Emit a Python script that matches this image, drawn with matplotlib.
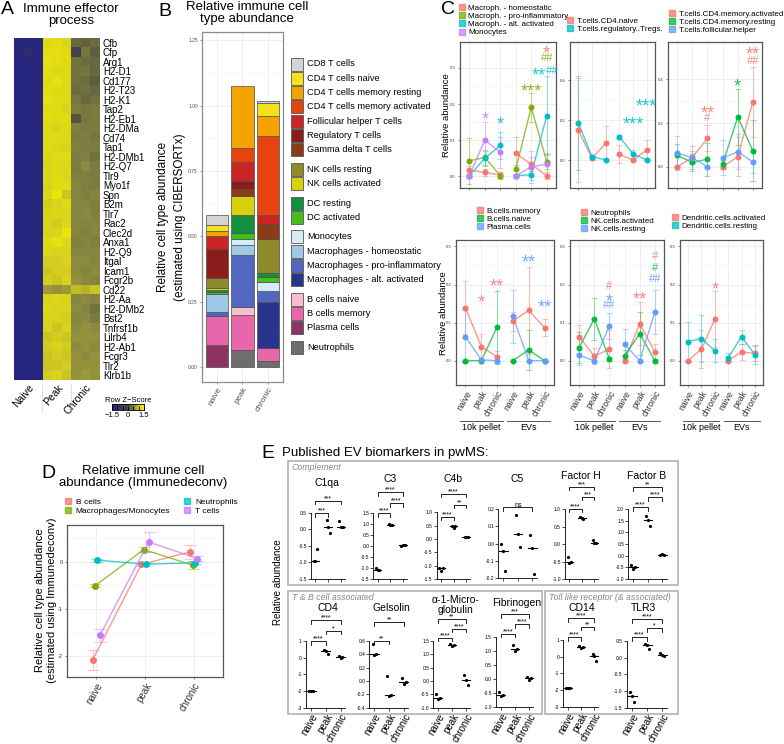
import matplotlib
matplotlib.use("Agg")
import matplotlib.pyplot as plt
from matplotlib.colors import LinearSegmentedColormap
from matplotlib.lines import Line2D
from matplotlib.patches import Rectangle
from matplotlib.transforms import blended_transform_factory
import numpy as np

plt.rcParams['font.family'] = ['Liberation Sans', 'DejaVu Sans']
plt.rcParams['axes.unicode_minus'] = False

# ---------------- A: heatmap (row z-scores, 3 naive / 3 peak / 3 chronic)
genes = ['Cfb', 'Cfp', 'Arg1', 'H2-D1', 'Cd177', 'H2-T23', 'H2-K1', 'Tap2', 'H2-Eb1',
         'H2-DMa', 'Cd74', 'Tap1', 'H2-DMb1', 'H2-Q7', 'Tlr9', 'Myo1f', 'Spn', 'B2m',
         'Tlr7', 'Rac2', 'Clec2d', 'Anxa1', 'H2-Q9', 'Itgal', 'Icam1', 'Fcgr2b', 'Cd22',
         'H2-Aa', 'H2-DMb2', 'Bst2', 'Tnfrsf1b', 'Lilrb4', 'H2-Ab1', 'Fcgr3', 'Tlr2', 'Klrb1b']
heat_groups = ['Naive', 'Peak', 'Chronic']
zscores = [
    [-1.5, -1.4, -1.45, 1.2, 1.25, 1.1, 0.3, 0.25, 0.35],
    [-1.45, -1.2, -1.45, 1.25, 1.25, 1.2, -0.3, 0.45, 0.2],
    [-1.5, -1.5, -1.5, 1.3, 1.25, 1.2, 0.4, 0.35, 0.3],
    [-1.5, -1.5, -1.5, 1.25, 1.15, 1.2, 0.4, 0.45, 0.3],
    [-1.5, -1.5, -1.5, 1.2, 1.3, 1.15, 0.4, 0.35, 0.2],
    [-1.5, -1.5, -1.5, 1.25, 1.2, 1.15, 0.35, 0.4, 0.3],
    [-1.5, -1.5, -1.5, 1.3, 1.2, 1.2, 0.45, 0.3, 0.4],
    [-1.5, -1.5, -1.5, 1.2, 1.2, 1.1, 0.5, 0.45, 0.5],
    [-1.5, -1.5, -1.5, 1.25, 1.2, 1.2, 0.1, 0.45, 0.5],
    [-1.5, -1.5, -1.5, 1.2, 1.1, 1.2, 0.55, 0.5, 0.5],
    [-1.5, -1.5, -1.5, 1.2, 1.2, 1.15, 0.5, 0.55, 0.45],
    [-1.5, -1.5, -1.5, 1.2, 1.15, 1.1, 0.55, 0.5, 0.5],
    [-1.5, -1.5, -1.5, 1.15, 1.2, 1.2, 0.5, 0.55, 0.4],
    [-1.5, -1.5, -1.5, 1.1, 1.2, 1.15, 0.5, 0.65, 0.5],
    [-1.5, -1.5, -1.5, 1.15, 1.2, 1.15, 0.55, 0.55, 0.5],
    [-1.5, -1.5, -1.5, 1.1, 1.2, 1.2, 0.6, 0.55, 0.5],
    [-1.5, -1.5, -1.5, 1.15, 1.35, 1.0, 0.6, 0.55, 0.6],
    [-1.5, -1.5, -1.5, 1.05, 1.1, 1.2, 0.6, 0.6, 0.55],
    [-1.5, -1.5, -1.5, 1.1, 1.15, 1.1, 0.6, 0.65, 0.55],
    [-1.5, -1.5, -1.5, 1.1, 1.05, 1.15, 0.6, 0.6, 0.6],
    [-1.5, -1.5, -1.5, 1.1, 1.1, 1.35, 0.6, 0.55, 0.6],
    [-1.5, -1.5, -1.5, 1.2, 1.3, 1.15, 0.55, 0.6, 0.55],
    [-1.5, -1.5, -1.5, 1.15, 1.1, 1.1, 0.6, 0.6, 0.6],
    [-1.5, -1.5, -1.5, 1.05, 1.05, 1.1, 0.65, 0.65, 0.6],
    [-1.5, -1.5, -1.5, 1.0, 1.05, 1.05, 0.65, 0.6, 0.65],
    [-1.5, -1.5, -1.5, 1.05, 1.0, 1.1, 0.7, 0.65, 0.6],
    [-1.5, -1.5, -1.5, 0.75, 0.7, 0.75, 0.95, 0.9, 1.0],
    [-1.5, -1.5, -1.5, 1.1, 1.15, 1.1, 0.6, 0.65, 0.6],
    [-1.5, -1.5, -1.5, 1.15, 1.1, 1.1, 0.65, 0.6, 0.4],
    [-1.5, -1.5, -1.5, 1.1, 1.1, 1.05, 0.6, 0.65, 0.5],
    [-1.5, -1.5, -1.5, 1.1, 1.0, 1.1, 0.65, 0.7, 0.65],
    [-1.5, -1.5, -1.5, 1.0, 1.05, 1.0, 0.7, 0.7, 0.7],
    [-1.5, -1.5, -1.5, 1.05, 1.1, 1.05, 0.65, 0.7, 0.65],
    [-1.5, -1.5, -1.5, 1.0, 1.05, 1.0, 0.7, 0.65, 0.7],
    [-1.5, -1.5, -1.5, 1.0, 1.0, 1.05, 0.7, 0.7, 0.7],
    [-1.5, -1.5, -1.5, 1.05, 1.1, 1.0, 0.7, 0.75, 0.7],
]

# ---------------- B: CIBERSORTx stacked bars (legend order = top of stack first)
stages = ['naive', 'peak', 'chronic']
cell_types = ['CD8 T cells', 'CD4 T cells naive', 'CD4 T cells memory resting',
              'CD4 T cells memory activated', 'Follicular helper T cells', 'Regulatory T cells',
              'Gamma delta T cells', 'NK cells resting', 'NK cells activated', 'DC resting',
              'DC activated', 'Monocytes', 'Macrophages - homeostatic',
              'Macrophages - pro-inflammatory', 'Macrophages - alt. activated', 'B cells naive',
              'B cells memory', 'Plasma cells', 'Neutrophils']
cell_colors = ['#d4d4d4', '#f6e21c', '#f5a300', '#e8420e', '#cc2424', '#8b1c1c', '#8c3c14',
               '#8f8a2c', '#d8d00c', '#12903c', '#44bf1f', '#d8ecf8', '#9dc8e6', '#5268c0',
               '#29348c', '#f9bdd0', '#e866aa', '#8e3462', '#6e6e6e']
abund_naive = [0.040, 0.024, 0.019, 0.0, 0.049, 0.109, 0.0, 0.041, 0.008, 0.006, 0.009, 0.0,
               0.068, 0.015, 0.0, 0.0, 0.109, 0.086, 0.0]
abund_peak = [0.0, 0.0, 0.236, 0.055, 0.073, 0.029, 0.028, 0.0, 0.073, 0.068, 0.022, 0.023,
              0.038, 0.200, 0.0, 0.029, 0.134, 0.0, 0.066]
abund_chronic = [0.009, 0.049, 0.077, 0.304, 0.032, 0.0, 0.060, 0.130, 0.0, 0.014, 0.018, 0.036,
                 0.0, 0.041, 0.176, 0.0, 0.051, 0.0, 0.022]

# ---------------- C: relative abundance, 10k pellet (naive, peak, chronic) then EVs
c_stages = ['naive', 'peak', 'chronic', 'naive', 'peak', 'chronic']
c1_labels = ['Macroph. - homeostatic', 'Macroph. - pro-inflammatory', 'Macroph. - alt. activated', 'Monocytes']
c1_mean = [[0.017, 0.010, 0.003, 0.063, 0.033, 0.001], [0.042, 0.052, 0.001, 0.019, 0.191, 0.040],
           [0.001, 0.049, 0.085, 0.001, 0.004, 0.168], [0.001, 0.100, 0.066, 0.001, 0.026, 0.033]]
c1_err = [[0.012, 0.010, 0.008, 0.046, 0.020, 0.010], [0.065, 0.020, 0.008, 0.012, 0.040, 0.020],
          [0.005, 0.020, 0.038, 0.005, 0.015, 0.110], [0.005, 0.050, 0.043, 0.005, 0.045, 0.030]]
c1_sig = [(2, 0.175, '*', 3), (3, 0.161, '*', 2), (5, 0.253, '***', 1), (6, 0.356, '*', 0),
          (6, 0.33, '##', 1), (5.5, 0.295, '**', 2), (6.35, 0.295, '##', 2)]

c2_labels = ['T.cells.CD4.naive', 'T.cells.regulatory..Tregs.']
c2_mean = [[0.15, 0.008, 0.083, 0.028, 0.0, 0.05], [0.187, 0.017, 0.0, 0.117, 0.03, 0.0]]
c2_err = [[0.26, 0.01, 0.085, 0.045, 0.005, 0.05], [0.235, 0.01, 0.005, 0.01, 0.02, 0.005]]
c2_sig = [(5, 0.207, '***', 1), (6, 0.30, '***', 1)]

c3_labels = ['T.cells.CD4.memory.activated', 'T.cells.CD4.memory.resting', 'T.cells.follicular.helper']
c3_mean = [[0.0, 0.043, 0.13, 0.0, 0.046, 0.297], [0.053, 0.02, 0.035, 0.012, 0.228, 0.073],
           [0.064, 0.041, 0.0, 0.041, 0.068, 0.023]]
c3_err = [[0.005, 0.053, 0.06, 0.005, 0.09, 0.16], [0.05, 0.04, 0.075, 0.02, 0.13, 0.14],
          [0.077, 0.03, 0.005, 0.08, 0.08, 0.05]]
c3_sig = [(3, 0.271, '**', 0), (3, 0.228, '#', 0), (5, 0.396, '*', 1), (6, 0.54, '**', 0), (6, 0.49, '##', 0)]

c4_labels = ['B.cells.memory', 'B.cells.naive', 'Plasma.cells']
c4_mean = [[0.139, 0.037, 0.010, 0.104, 0.132, 0.087], [0.0, 0.0, 0.088, 0.0, 0.028, 0.0],
           [0.063, 0.002, 0.0, 0.116, 0.0, 0.0]]
c4_err = [[0.069, 0.034, 0.015, 0.025, 0.115, 0.022], [0.0, 0.0, 0.096, 0.0, 0.052, 0.0],
          [0.07, 0.0, 0.0, 0.07, 0.0, 0.0]]
c4_sig = [(2, 0.168, '*', 0), (3, 0.212, '**', 0), (5, 0.274, '**', 2), (6, 0.157, '**', 2)]

c5_labels = ['Neutrophils', 'NK.cells.activated', 'NK.cells.resting']
c5_mean = [[0.063, 0.012, 0.03, 0.0, 0.097, 0.023], [0.034, 0.11, 0.004, 0.013, 0.071, 0.0],
           [0.014, 0.0, 0.091, 0.043, 0.0, 0.128]]
c5_err = [[0.03, 0.02, 0.05, 0.005, 0.057, 0.02], [0.04, 0.055, 0.005, 0.015, 0.057, 0.005],
          [0.025, 0.0, 0.035, 0.04, 0.0, 0.058]]
c5_sig = [(3, 0.199, '#', 0), (3, 0.173, '*', 2), (3, 0.148, '##', 2), (5, 0.177, '**', 0),
          (6, 0.277, '#', 0), (6, 0.247, '#', 1), (6, 0.217, '##', 2)]

c6_labels = ['Dendritic.cells.activated', 'Dendritic.cells.resting']
c6_mean = [[0.0, 0.03, 0.109, 0.0, 0.023, 0.019], [0.05, 0.058, 0.026, 0.008, 0.063, 0.015]]
c6_err = [[0.0, 0.05, 0.074, 0.0, 0.02, 0.02], [0.052, 0.062, 0.03, 0.012, 0.018, 0.025]]
c6_sig = [(3, 0.204, '*', 0)]

# ---------------- D: Immunedeconv
d_labels = ['B cells', 'Macrophages/Monocytes', 'Neutrophils', 'T cells']
d_mean = [[-2.08, -0.056, 0.21], [-0.507, 0.26, -0.07], [0.035, -0.05, -0.02], [-1.56, 0.42, 0.07]]
d_err = [[0.22, 0.03, 0.14], [0.03, 0.06, 0.08], [0.03, 0.03, 0.03], [0.13, 0.22, 0.05]]

# ---------------- E: published EV biomarkers (naive, peak, chronic; 3 points each)
c1qa_pts = [[-0.96, -0.96, -0.6], [0.28, 0.08, -0.1], [0.26, 0.08, 0.08]]
c3_pts = [[-1.0, -1.08, -1.1], [0.98, 0.95, 0.95], [0.0, 0.02, 0.03]]
c4b_pts = [[-1.1, -1.19, -1.1], [0.49, 0.42, 0.49], [0.06, 0.06, 0.06]]
c5_pts = [[0.0, -0.045, -0.16], [0.165, 0.055, -0.02], [0.05, -0.025, -0.175]]
fh_pts = [[-0.37, -0.55, -0.52], [0.78, 0.74, 0.73], [0.13, 0.02, 0.04]]
fb_pts = [[-0.4, -0.55, -0.5], [1.71, 1.55, 1.28], [0.04, 0.06, 0.05]]
cd4_pts = [[-2.0, -2.0, -2.0], [0.48, 0.38, 0.2], [0.08, 0.0, 0.02]]
gsn_pts = [[0.55, 0.39, 0.4], [0.07, -0.22, -0.21], [0.05, -0.04, -0.01]]
a1m_pts = [[-0.47, -0.66, -0.62], [1.4, 1.3, 1.36], [0.21, 0.05, -0.14]]
fgb_pts = [[-0.45, -0.6, -0.57], [1.24, 1.01, 1.1], [0.08, -0.04, 0.04]]
cd14_pts = [[-1.86, -1.9, -1.9], [0.66, 0.54, 0.57], [0.14, 0.03, -0.26]]
tlr3_pts = [[-1.04, -1.15, -1.32], [0.4, 0.38, 0.26], [0.15, 0.07, 0.05]]
c1qa_br = [(0, 1, 0.48, '***'), (0, 2, 0.85, '***')]
c3_br = [(0, 1, 1.47, '****'), (1, 2, 1.92, '****'), (0, 2, 2.42, '****')]
c4b_br = [(0, 1, 0.84, '****'), (1, 2, 1.28, '**'), (0, 2, 1.68, '****')]
c5_br = [(0, 2, 0.21, 'ns')]
fh_br = [(0, 1, 1.02, '****'), (1, 2, 1.36, '***'), (0, 2, 1.65, '***')]
fb_br = [(0, 1, 2.08, '****'), (1, 2, 2.51, '****'), (0, 2, 2.94, '**')]
cd4_br = [(0, 1, 0.98, '****'), (1, 2, 1.6, '*'), (0, 2, 2.24, '****')]
gsn_br = [(0, 1, 0.6, '**'), (0, 2, 0.88, '**')]
a1m_br = [(0, 1, 1.62, '****'), (1, 2, 1.96, '****'), (0, 2, 2.31, '**')]
fgb_br = [(0, 1, 1.63, '****'), (1, 2, 1.96, '****'), (0, 2, 2.32, '***')]
cd14_br = [(0, 1, 1.16, '****'), (1, 2, 1.8, '**'), (0, 2, 2.3, '****')]
tlr3_br = [(0, 1, 0.61, '****'), (1, 2, 0.88, '*'), (0, 2, 1.15, '****')]

# ------------------------------------------------------------------ figure
W, H = 784, 744
fig = plt.figure(figsize=(W / 100, H / 100), dpi=100)
ov = fig.add_axes([0, 0, 1, 1], zorder=10)
ov.set_xlim(0, W)
ov.set_ylim(H, 0)
ov.axis('off')


def pax(x0, y0, x1, y1):
    return fig.add_axes([x0 / W, 1 - y1 / H, (x1 - x0) / W, (y1 - y0) / H])


def txt(x, y, s, **kw):
    ov.text(x, y, s, **kw)


GRID = '#ebebeb'

# ---------------- A
txt(1, 9, 'A', fontsize=14, va='center')
txt(71, 15, 'Immune effector\nprocess', fontsize=9.5, ha='center', va='center', linespacing=1.1)
cmap = LinearSegmentedColormap.from_list(
    'zs', [(0.0, '#26267e'), (0.5, '#4a4a40'), (0.72, '#8c8b40'), (0.86, '#d8d21e'), (1.0, '#f4ee00')])
axa = pax(14, 38, 100, 380)
axa.imshow(np.array(zscores), cmap=cmap, vmin=-1.5, vmax=1.5, aspect='auto', interpolation='nearest')
axa.yaxis.tick_right()
axa.set_yticks(range(len(genes)))
axa.set_yticklabels(genes, fontsize=7.0)
axa.set_xticks([1, 4, 7])
axa.set_xticklabels(heat_groups, rotation=50, ha='right', rotation_mode='anchor', fontsize=7.5)
axa.tick_params(length=0, pad=2)
for s in axa.spines.values():
    s.set_visible(False)
for xx in (42, 71):
    ov.plot([xx, xx], [384, 412], ls=':', color='#b0b0b0', lw=0.7)
cax = pax(112, 404, 144, 410)
cax.imshow(np.linspace(-1.5, 1.5, 100)[None, :], cmap=cmap, aspect='auto', extent=(-1.5, 1.5, 0, 1))
cax.set_yticks([])
cax.set_xticks(np.arange(-1.5, 1.6, 0.5))
cax.set_xticklabels(['\u22121.5', '', '', '0', '', '', '1.5'], fontsize=5.5)
cax.tick_params(axis='x', direction='in', length=3, width=0.6, pad=1.5)
for s in cax.spines.values():
    s.set_linewidth(0.6)
txt(128, 400, 'Row Z\u2212Score', fontsize=5.5, ha='center', va='center')

# ---------------- B
txt(158, 11, 'B', fontsize=14, va='center')
txt(247, 13, 'Relative immune cell\ntype abundance', fontsize=9.5, ha='center', va='center', linespacing=1.0)
axb = pax(202, 32, 283, 382)
stack = np.array([abund_naive, abund_peak, abund_chronic])
bottom = np.zeros(3)
for k in reversed(range(len(cell_types))):
    for j in range(3):
        if stack[j, k] > 0:
            axb.bar(j, stack[j, k], bottom=bottom[j], width=0.88, color=cell_colors[k],
                    edgecolor='#4d4d4d', linewidth=0.5, zorder=3)
    bottom += stack[:, k]
axb.set_xlim(-0.6, 2.6)
axb.set_ylim(-0.057, 1.281)
axb.set_yticks([0, 0.25, 0.5, 0.75, 1.0, 1.25])
axb.set_yticklabels(['0.00', '0.25', '0.50', '0.75', '1.00', '1.25'], fontsize=3.5, color='#4d4d4d')
axb.set_yticks(np.arange(0.125, 1.25, 0.25), minor=True)
axb.set_xticks(range(3))
axb.set_xticklabels(stages, rotation=60, ha='right', rotation_mode='anchor', fontsize=6)
axb.tick_params(length=1.5, width=0.4, pad=1.5, colors='#4d4d4d')
axb.tick_params(which='minor', length=0)
axb.grid(True, which='major', color=GRID, lw=0.6)
axb.grid(True, which='minor', color='#f4f4f4', lw=0.4)
axb.set_axisbelow(True)
for s in axb.spines.values():
    s.set_color('#8c8c8c')
    s.set_linewidth(0.9)
txt(163, 217, 'Relative cell type abundance', fontsize=8.5, rotation=90, ha='center', va='center')
txt(180, 217, '(estimated using CIBERSORTx)', fontsize=8.5, rotation=90, ha='center', va='center')
ly = 64
for k, name in enumerate(cell_types):
    if k in (7, 9, 11, 15, 18):
        ly += 5.2
    ov.add_patch(Rectangle((291, ly - 6.5), 12, 13, facecolor=cell_colors[k], edgecolor='#555555', lw=0.6))
    txt(307, ly, name, fontsize=6.7, va='center')
    ly += 14.3

# ---------------- C
txt(441, 9, 'C', fontsize=14, va='center')


def draw_c(rect, labels, colors, means, errs, ylim, yticks, sig, leg_xy, show_x):
    ax = pax(*rect)
    for k in range(len(labels)):
        m = np.array(means[k])
        e = np.array(errs[k])
        for g in (0, 1):
            xs = np.arange(1, 4) + 3 * g
            sl = slice(3 * g, 3 * g + 3)
            ax.errorbar(xs, m[sl], yerr=e[sl], fmt='none', ecolor=colors[k], alpha=0.4,
                        capsize=2.5, elinewidth=0.8, capthick=0.8, zorder=2)
            ax.plot(xs, m[sl], color=colors[k], alpha=0.75, lw=1.0, zorder=3)
            ax.plot(xs, m[sl], 'o', color=colors[k], ms=4.3, mec='none', zorder=4)
    for x, y, s, ci in sig:
        fs = 13 if '*' in s else 8
        off = -0.62 * fs if '*' in s else -0.36 * fs
        ax.annotate(s, (x, y), xytext=(0, off), textcoords='offset points', ha='center',
                    va='baseline', fontsize=fs, color=colors[ci], alpha=0.85, annotation_clip=False)
    ax.set_xlim(0.4, 6.6)
    ax.set_ylim(*ylim)
    ax.set_yticks(yticks)
    ax.set_yticklabels(['%.1f' % t for t in yticks], fontsize=3, color='#4d4d4d')
    ax.set_xticks(range(1, 7))
    if show_x:
        ax.set_xticklabels(c_stages, rotation=60, ha='right', rotation_mode='anchor', fontsize=6.3)
    else:
        ax.set_xticklabels([])
    ax.set_yticks(np.array(yticks[:-1]) + (yticks[1] - yticks[0]) / 2, minor=True)
    ax.tick_params(length=1.5, width=0.4, pad=1.5, colors='#333333')
    ax.tick_params(which='minor', length=0)
    ax.grid(True, which='major', color=GRID, lw=0.6)
    ax.grid(True, which='minor', color='#f4f4f4', lw=0.4)
    ax.set_axisbelow(True)
    for s in ax.spines.values():
        s.set_color('#555555')
        s.set_linewidth(0.9)
    handles = [Line2D([0], [0], color=c, marker='s', ms=4.5, lw=0, alpha=0.75) for c in colors]
    ax.legend(handles, labels, loc='upper left', bbox_to_anchor=(leg_xy[0] / W, 1 - leg_xy[1] / H),
              bbox_transform=fig.transFigure, frameon=False, fontsize=5.8, handlelength=0.9,
              handletextpad=0.4, labelspacing=0.08, borderpad=0, borderaxespad=0)
    return ax


hue4 = ['#F8766D', '#7CAE00', '#00BFC4', '#C77CFF']
hue3 = ['#F8766D', '#00BA38', '#619CFF']
hue2 = ['#F8766D', '#00BFC4']
draw_c((460, 42, 556, 188), c1_labels, hue4, c1_mean, c1_err, (-0.033, 0.372), [0.0, 0.1, 0.2, 0.3], c1_sig, (458, 4), False)
draw_c((570, 42, 655, 188), c2_labels, hue2, c2_mean, c2_err, (-0.14, 0.59), [0.0, 0.2, 0.4], c2_sig, (566, 17), False)
draw_c((668, 42, 762, 188), c3_labels, hue3, c3_mean, c3_err, (-0.097, 0.571), [0.0, 0.2, 0.4], c3_sig, (668, 10), False)
bl = draw_c((456, 240, 554, 385), c4_labels, hue3, c4_mean, c4_err, (-0.064, 0.317), [0.0, 0.1, 0.2, 0.3], c4_sig, (476, 207), True)
bm = draw_c((570, 240, 664, 385), c5_labels, hue3, c5_mean, c5_err, (-0.064, 0.317), [0.0, 0.1, 0.2, 0.3], c5_sig, (580, 209), True)
br = draw_c((680, 240, 763, 385), c6_labels, hue2, c6_mean, c6_err, (-0.064, 0.317), [0.0, 0.1, 0.2, 0.3], c6_sig, (671, 214), True)
for ax in (bl, bm, br):
    tr = blended_transform_factory(ax.transData, ov.transData)
    for x0, x1, lab in ((0.65, 3.35, '10k pellet'), (3.65, 6.35, 'EVs')):
        ov.plot([x0, x1], [421, 421], color='#555555', lw=0.7, transform=tr, clip_on=False)
        ov.text((x0 + x1) / 2, 428, lab, transform=tr, fontsize=6.5, ha='center', va='center')
txt(447, 115, 'Relative abundance', fontsize=6.8, rotation=90, ha='center', va='center')
txt(444, 313, 'Relative abundance', fontsize=6.8, rotation=90, ha='center', va='center')

# ---------------- D
txt(41, 473, 'D', fontsize=14, va='center')
txt(143, 477, 'Relative immune cell\nabundance (Immunedeconv)', fontsize=9.5, ha='center', va='center', linespacing=0.95)
axd = pax(67, 525, 223, 677)
dodge = [-0.075, -0.025, 0.025, 0.075]
for k in range(4):
    xs = np.arange(1, 4) + dodge[k]
    axd.errorbar(xs, d_mean[k], yerr=d_err[k], fmt='none', ecolor=hue4[k], alpha=0.4,
                 capsize=4, elinewidth=0.8, capthick=0.8)
    axd.plot(xs, d_mean[k], color=hue4[k], alpha=0.75, lw=1.0)
    axd.plot(xs, d_mean[k], 'o', color=hue4[k], ms=5, mec='none')
axd.set_xlim(0.4, 3.6)
axd.set_ylim(-2.44, 0.78)
axd.set_yticks([-2, -1, 0])
axd.set_yticklabels(['-2', '-1', '0'], fontsize=4, color='#4d4d4d')
axd.set_yticks([-1.5, -0.5, 0.5], minor=True)
axd.set_xticks([1, 2, 3])
axd.set_xticklabels(stages, rotation=60, ha='right', rotation_mode='anchor', fontsize=7)
axd.tick_params(length=1.5, width=0.4, pad=1.5, colors='#333333')
axd.tick_params(which='minor', length=0)
axd.grid(True, which='major', color=GRID, lw=0.6)
axd.grid(True, which='minor', color='#f4f4f4', lw=0.4)
axd.set_axisbelow(True)
for s in axd.spines.values():
    s.set_color('#555555')
    s.set_linewidth(0.9)
dh = [Line2D([0], [0], color=c, marker='s', ms=4.5, lw=0, alpha=0.75) for c in hue4]
axd.legend(dh, d_labels, ncol=2, loc='upper left', bbox_to_anchor=(64 / W, 1 - 498 / H),
           bbox_transform=fig.transFigure, frameon=False, fontsize=6, handlelength=0.9,
           handletextpad=0.5, labelspacing=0.15, columnspacing=1.6, borderpad=0, borderaxespad=0)
txt(40, 600, 'Relative cell type abundance', fontsize=8, rotation=90, ha='center', va='center')
txt(52, 600, '(estimated using Immunedeconv)', fontsize=8, rotation=90, ha='center', va='center')

# ---------------- E
txt(261, 453, 'E', fontsize=14, va='center')
txt(282, 453, 'Published EV biomarkers in pwMS:', fontsize=9.5, va='center')
for (bx, by, bw, bh, lab) in ((288, 461, 390, 124, 'Complement'),
                              (288, 591, 254, 123, 'T & B cell associated'),
                              (545, 591, 133, 123, 'Toll like receptor (& associated)')):
    ov.add_patch(Rectangle((bx, by), bw, bh, fill=False, edgecolor='#b8b8b8', lw=1.3))
    txt(bx + 4, by + 7, lab, fontsize=6.3, style='italic', color='#888888', va='center')
txt(278, 582, 'Relative abundance', fontsize=7, rotation=90, ha='center', va='center')


def draw_e(rect, pts, yticks, fmt, brackets, title, title_xy, show_x):
    ax = pax(*rect)
    offs = np.array([-0.13, 0.0, 0.13])
    for i, p in enumerate(pts):
        ax.plot(i + offs, p, 'o', color='black', ms=2.3, mec='none', clip_on=False)
        med = np.median(p)
        ax.plot([i - 0.3, i + 0.3], [med, med], color='black', lw=0.8, clip_on=False)
    ax.set_xlim(-0.35, 2.3)
    ax.set_ylim(yticks[0], yticks[-1])
    span = yticks[-1] - yticks[0]
    h = 0.05 * span
    for i, j, y, lab in brackets:
        ax.plot([i, i, j, j], [y - h, y, y, y - h], color='black', lw=0.6, clip_on=False)
        ax.text((i + j) / 2, y + 0.01 * span, lab, ha='center', va='baseline', fontsize=5, clip_on=False)
    ax.set_yticks(yticks)
    ax.set_yticklabels([fmt % t for t in yticks], fontsize=3.5)
    ax.set_xticks([0, 1, 2])
    if show_x:
        ax.set_xticklabels(stages, rotation=60, ha='right', rotation_mode='anchor', fontsize=7)
    else:
        ax.set_xticklabels([])
    ax.tick_params(length=2, width=0.5, pad=1)
    for s in ('top', 'right'):
        ax.spines[s].set_visible(False)
    for s in ('left', 'bottom'):
        ax.spines[s].set_linewidth(0.6)
    ax.patch.set_alpha(0)
    txt(title_xy[0], title_xy[1], title, fontsize=7.5, ha='center', va='center', linespacing=0.95)


draw_e((311, 512.7, 345, 579), c1qa_pts, [-1.5, -1.0, -0.5, 0.0, 0.5], '%.1f', c1qa_br, 'C1qa', (327, 483), False)
draw_e((373.3, 512.7, 406.7, 579), c3_pts, [-1.5, -1.0, -0.5, 0.0, 0.5, 1.0, 1.5], '%.1f', c3_br, 'C3', (390, 479), False)
draw_e((436.7, 512.3, 470, 579), c4b_pts, [-1.5, -1.0, -0.5, 0.0, 0.5, 1.0], '%.1f', c4b_br, 'C4b', (453, 479), False)
draw_e((498.3, 509, 536.7, 578.3), c5_pts, [-0.2, -0.1, 0.0, 0.1, 0.2], '%.1f', c5_br, 'C5', (517, 479), False)
draw_e((565, 509.3, 598, 579), fh_pts, [-1.0, -0.5, 0.0, 0.5, 1.0], '%.1f', fh_br, 'Factor H', (581, 476), False)
draw_e((628.3, 509, 666.7, 579), fb_pts, [-1.0, -0.5, 0.0, 0.5, 1.0, 1.5, 2.0], '%.1f', fb_br, 'Factor B', (647, 476), False)
draw_e((306, 641, 345, 707.7), cd4_pts, [-3, -2, -1, 0, 1], '%d', cd4_br, 'CD4', (328, 608), True)
draw_e((369.3, 641, 408.3, 707.7), gsn_pts, [-0.4, -0.2, 0.0, 0.2, 0.4, 0.6], '%.1f', gsn_br, 'Gelsolin', (391, 608), True)
draw_e((433.3, 641, 470, 707.7), a1m_pts, [-1.0, -0.5, 0.0, 0.5, 1.0, 1.5], '%.1f', a1m_br, '\u03b1-1-Micro-\nglobulin', (456, 605), True)
draw_e((496, 637.3, 533.3, 707.3), fgb_pts, [-1.0, -0.5, 0.0, 0.5, 1.0, 1.5], '%.1f', fgb_br, 'Fibrinogen', (517, 603), True)
draw_e((563.3, 640, 598.3, 706.7), cd14_pts, [-3, -2, -1, 0, 1], '%d', cd14_br, 'CD14', (582, 608), True)
draw_e((626.7, 641, 666.7, 707.7), tlr3_pts, [-1.5, -1.0, -0.5, 0.0, 0.5], '%.1f', tlr3_br, 'TLR3', (643, 608), True)

fig.savefig('out.png', dpi=100)
